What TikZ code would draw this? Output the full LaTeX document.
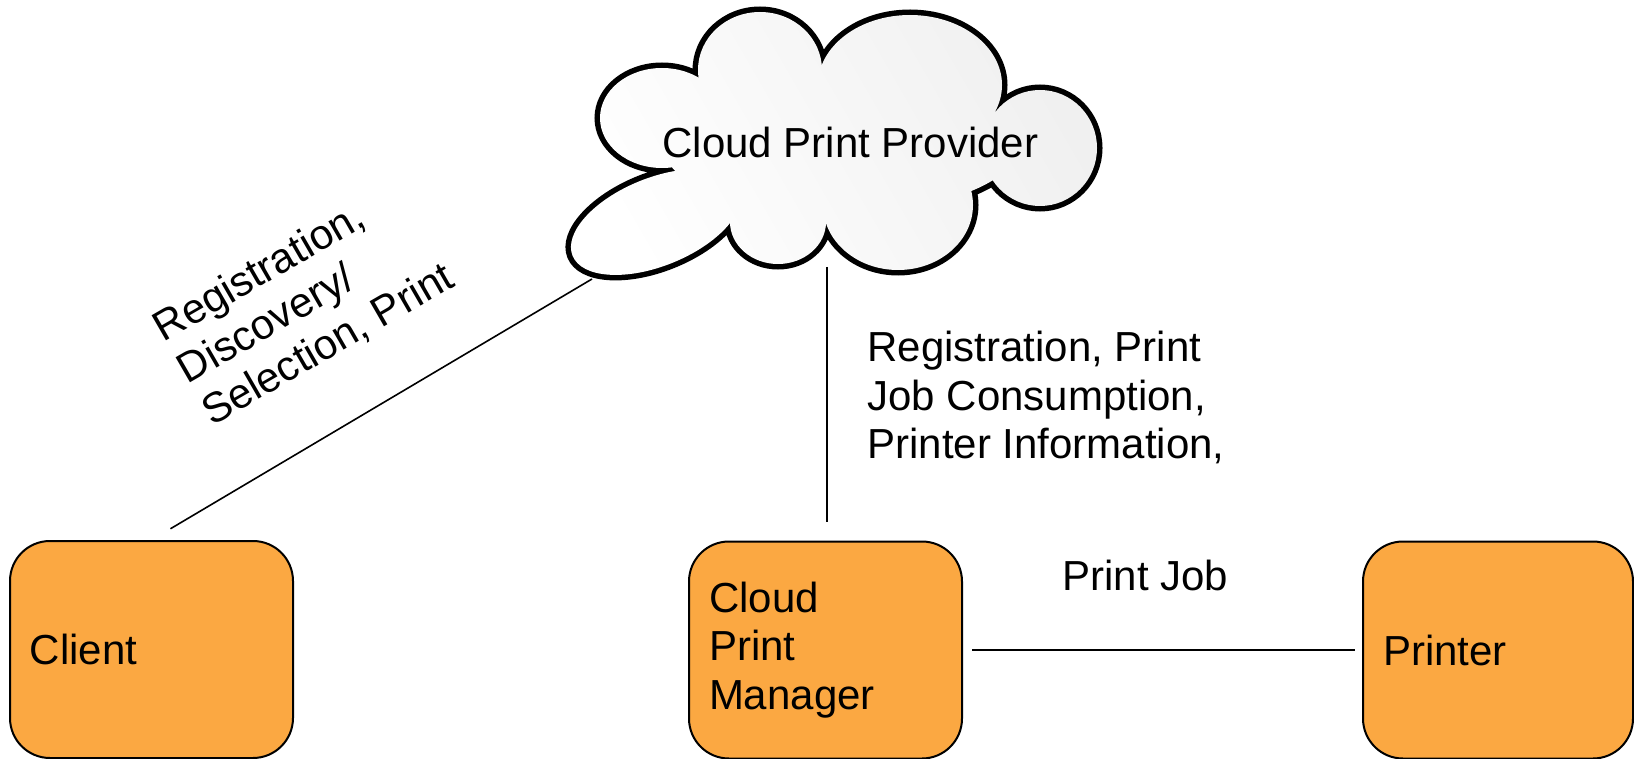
\documentclass[tikz,border=0pt]{standalone}
\usepackage{fontspec}
\setmainfont{Liberation Sans}
\usetikzlibrary{calc}
\definecolor{boxorange}{RGB}{251,168,66}
% lobes of the cloud, united by clipping
\newcommand\cloudlobes{%
  (760,70) ellipse [x radius=62, y radius=58]
  (910,85) ellipse [x radius=92, y radius=70]
  (1040,148) ellipse [x radius=57, y radius=58]
  (898,205) ellipse [x radius=75, y radius=65]
  (778,222) ellipse [x radius=48, y radius=42]
  (656,222) ellipse [x radius=90, y radius=44, rotate=22]
  (662,118) ellipse [x radius=62, y radius=50]
  (840,150) ellipse [x radius=175, y radius=62]}

\begin{document}
\begin{tikzpicture}[x=0.5pt, y=-0.5pt,
every node/.style={font=\fontsize{21}{24.2}\selectfont},
device/.style={draw=black, line width=1pt, fill=boxorange, rounded corners=20pt, minimum height=108.5pt, inner xsep=10pt, align=left},
wire/.style={draw=black, line width=0.8pt},
note/.style={inner sep=0pt, align=left}]
\useasboundingbox (0,0) rectangle (1634,759);

% cloud
\path[draw=black, line width=5.5pt] \cloudlobes;
\begin{scope}
  \clip \cloudlobes;
  \shade[left color=white, right color=black!6, shading angle=120] (560,0) rectangle (1110,290);
\end{scope}
\node[inner sep=0pt, anchor=base] (provider) at (850.5,158) {Cloud Print Provider};
\coordinate (provider sw) at (592,279);
\coordinate (provider s) at (827,267);

% devices
\node[device, minimum width=141.5pt, text width=121.5pt] (client) at (151.5,649.5) {Client};
\node[device, minimum width=136.5pt, text width=116.5pt] (cpm) at (825.5,650) {Cloud\\Print\\Manager};
\node[device, minimum width=135pt, text width=115pt] (printer) at (1498,650) {Printer};

% connectors
\draw[wire, shorten >=11pt] (provider sw) -- (client.north);
\draw[wire, shorten >=9.5pt] (provider s) -- (provider s |- cpm.north);
\draw[wire, shorten <=4.5pt, shorten >=3.5pt] (cpm.east) -- (printer.west);

% labels
\node[note, rotate=30] (client note) at (304,303) {Registration,\\Discovery/\\Selection, Print};
\node[note, anchor=north west] (cpm note) at (867,331) {Registration, Print\\Job Consumption,\\Printer Information,};
\node[note, anchor=base west] (job note) at (1062,590) {Print Job};
\end{tikzpicture}
\end{document}
